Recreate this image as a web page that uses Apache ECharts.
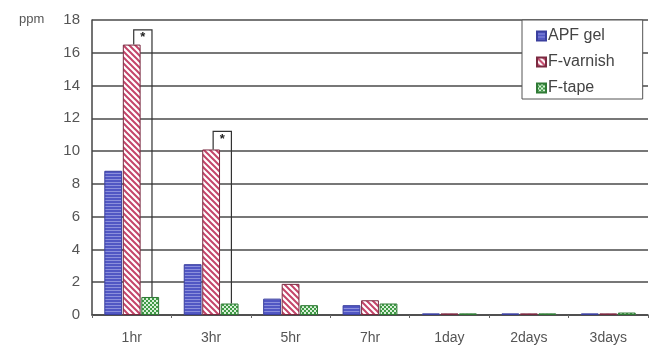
<!DOCTYPE html>
<html>
<head>
<meta charset="utf-8">
<script src="https://cdn.jsdelivr.net/npm/echarts@6/dist/echarts.min.js"></script>
<style>
  html, body { margin: 0; padding: 0; background: #fff; }
  #chart { width: 655px; height: 353px; }
</style>
</head>
<body>
<div id="chart"></div>
<script>
const categories = ['1hr', '3hr', '5hr', '7hr', '1day', '2days', '3days'];
const apfGel = [8.8, 3.1, 1.0, 0.6, 0.1, 0.1, 0.1];
const fVarnish = [16.5, 10.1, 1.9, 0.9, 0.1, 0.1, 0.1];
const fTape = [1.1, 0.7, 0.6, 0.7, 0.1, 0.1, 0.15];

// significance brackets: category index, bracket top (ppm)
const sigIndex = [0, 1];
const sigTop = [17.4, 11.2];

function makePattern(kind) {
  const c = document.createElement('canvas');
  const ctx = c.getContext('2d');
  if (kind === 'hlines') {
    c.width = 4; c.height = 3;
    ctx.fillStyle = '#5157c4';
    ctx.fillRect(0, 0, 4, 3);
    ctx.fillStyle = '#8c90dc';
    ctx.fillRect(0, 2, 4, 1);
  } else if (kind === 'diag') {
    c.width = 6; c.height = 6;
    ctx.fillStyle = '#fff';
    ctx.fillRect(0, 0, 6, 6);
    ctx.strokeStyle = '#c4456a';
    ctx.lineWidth = 2;
    ctx.beginPath();
    ctx.moveTo(-1, -1); ctx.lineTo(7, 7);
    ctx.moveTo(-4, 2); ctx.lineTo(2, 8);
    ctx.moveTo(2, -4); ctx.lineTo(8, 2);
    ctx.stroke();
  } else {
    c.width = 4; c.height = 4;
    ctx.fillStyle = '#3f9a45';
    ctx.fillRect(0, 0, 4, 4);
    ctx.fillStyle = '#d8f0d8';
    ctx.fillRect(0, 0, 2, 2);
    ctx.fillRect(2, 2, 2, 2);
  }
  return { image: c, repeat: 'repeat' };
}

const chart = echarts.init(document.getElementById('chart'));

const catGap = 0.31;

const option = {
  animation: false,
  grid: { left: 92, right: 7, top: 20, bottom: 38 },
  legend: {
    data: ['APF gel', 'F-varnish', 'F-tape'],
    orient: 'vertical',
    left: 522,
    top: 20,
    padding: [8, 28, 3, 14],
    itemGap: 10,
    itemWidth: 9,
    itemHeight: 9,
    icon: 'rect',
    borderColor: '#555',
    borderWidth: 1,
    borderRadius: 0,
    backgroundColor: '#fff',
    textStyle: { fontFamily: 'Liberation Sans', fontSize: 16, color: '#444', padding: [0, 0, 0, -3] }
  },
  xAxis: {
    type: 'category',
    data: categories,
    axisLine: { lineStyle: { color: '#444', width: 1.5 } },
    axisTick: { show: true, length: 3, lineStyle: { color: '#666' } },
    axisLabel: { fontFamily: 'Liberation Sans', fontSize: 14, color: '#555', margin: 16 }
  },
  yAxis: {
    type: 'value',
    min: 0,
    max: 18,
    interval: 2,
    axisLine: { show: true, lineStyle: { color: '#444', width: 1.5 } },
    axisTick: { show: false },
    axisLabel: { fontFamily: 'Liberation Sans', fontSize: 15, color: '#555', margin: 12 },
    splitLine: { lineStyle: { color: '#4a4a4a', width: 1.5 } }
  },
  graphic: [{
    type: 'text',
    left: 19,
    top: 13,
    style: { text: 'ppm', font: '13px "Liberation Sans"', fill: '#555' }
  }],
  series: [
    {
      name: 'APF gel', type: 'bar', data: apfGel,
      barCategoryGap: (catGap * 100) + '%', barGap: '4%',
      itemStyle: { color: makePattern('hlines'), borderColor: '#3a3f9e', borderWidth: 1 }
    },
    {
      name: 'F-varnish', type: 'bar', data: fVarnish,
      barCategoryGap: (catGap * 100) + '%', barGap: '4%',
      itemStyle: { color: makePattern('diag'), borderColor: '#7a2a40', borderWidth: 1 }
    },
    {
      name: 'F-tape', type: 'bar', data: fTape,
      barCategoryGap: (catGap * 100) + '%', barGap: '4%',
      itemStyle: { color: makePattern('check'), borderColor: '#2f7a35', borderWidth: 1 }
    },
    {
      name: 'sig', type: 'custom',
      silent: true,
      z: 5,
      data: sigIndex.map((i, k) => [i, sigTop[k], fVarnish[i], fTape[i]]),
      renderItem(params, api) {
        const idx = api.value(0);
        const top = api.coord([idx, api.value(1)]);
        const a = api.coord([idx, api.value(2)]);
        const b = api.coord([idx, api.value(3)]);
        const band = api.size([1, 0])[0];
        const bw = band * (1 - catGap) / 3;
        const x1 = top[0] + 2;
        const x2 = top[0] + bw + 2;
        const stroke = { stroke: '#333', lineWidth: 1.2, fill: null };
        return {
          type: 'group',
          children: [
            { type: 'polyline', shape: { points: [[x1, a[1]], [x1, top[1]], [x2, top[1]], [x2, b[1]]] }, style: stroke },
            { type: 'text', x: (x1 + x2) / 2, y: top[1] + 1,
              style: { text: '*', font: 'bold 13px "Liberation Sans"', fill: '#222', align: 'center', verticalAlign: 'top' } }
          ]
        };
      }
    }
  ]
};

chart.setOption(option);
</script>
</body>
</html>
